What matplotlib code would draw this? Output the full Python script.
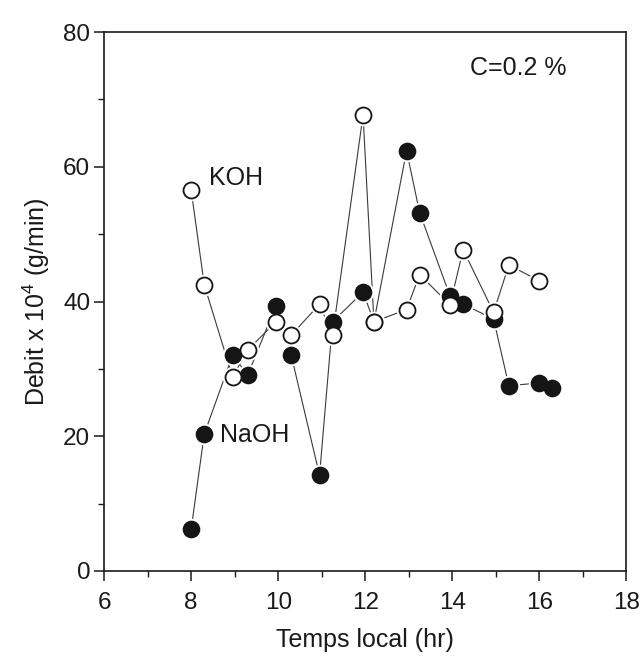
import matplotlib
matplotlib.use("Agg")
import matplotlib.pyplot as plt
from matplotlib.ticker import MultipleLocator

plt.rcParams['font.family'] = ['Liberation Sans', 'DejaVu Sans']
plt.rcParams['mathtext.fontset'] = 'custom'
plt.rcParams['mathtext.rm'] = 'Liberation Sans'

# Data
naoh_t = [8.0, 8.3, 8.95, 9.3, 9.95, 10.3, 10.95, 11.25, 11.95, 12.2, 12.95, 13.25, 13.95, 14.25, 14.95, 15.3, 16.0, 16.3]
naoh_v = [6.2, 20.3, 32.0, 29.1, 39.4, 32.0, 14.2, 37.0, 41.4, 37.0, 62.4, 53.2, 40.8, 39.6, 37.4, 27.5, 27.9, 27.2]

koh_t = [8.0, 8.3, 8.95, 9.3, 9.95, 10.3, 10.95, 11.25, 11.95, 12.2, 12.95, 13.25, 13.95, 14.25, 14.95, 15.3, 16.0]
koh_v = [56.5, 42.5, 28.8, 32.8, 37.0, 35.0, 39.6, 35.0, 67.7, 37.0, 38.8, 44.0, 39.5, 47.7, 38.4, 45.4, 43.1]

fig = plt.figure(figsize=(6.43, 6.70), dpi=100)
ax = fig.add_axes([0.162, 0.148, 0.812, 0.804])

ms = 11.5
lc = '#3a3a3a'
ax.plot(naoh_t, naoh_v, '-', color=lc, lw=0.8, zorder=2)
ax.plot(koh_t, koh_v, '-', color=lc, lw=0.8, zorder=2)
# white halos to create the gaps between lines and markers
ax.plot(naoh_t, naoh_v, 'o', ms=ms + 4, mfc='white', mec='none', zorder=3)
ax.plot(koh_t, koh_v, 'o', ms=ms + 4, mfc='white', mec='none', zorder=3)
ax.plot(naoh_t, naoh_v, 'o', ms=ms, mfc='#151515', mec='#151515', mew=1.2, zorder=4)
ax.plot(koh_t, koh_v, 'o', ms=ms, mfc='white', mec='#151515', mew=1.3, zorder=5)

ax.set_xlim(6, 18)
ax.set_ylim(0, 80)
ax.xaxis.set_major_locator(MultipleLocator(2))
ax.xaxis.set_minor_locator(MultipleLocator(1))
ax.yaxis.set_major_locator(MultipleLocator(20))
ax.yaxis.set_minor_locator(MultipleLocator(10))
ax.tick_params(axis='both', which='major', direction='out', length=7, width=1.1,
               labelsize=17.5, colors='#1a1a1a')
ax.tick_params(axis='both', which='minor', direction='out', length=4, width=1.0, colors='#1a1a1a')
ax.tick_params(axis='x', which='major', pad=8)
ax.tick_params(axis='y', which='major', pad=3)
ax.tick_params(top=False, right=False, which='both')
for s in ax.spines.values():
    s.set_linewidth(1.2)
    s.set_color('#1a1a1a')

ax.set_xlabel('Temps local (hr)', fontsize=18, color='#1a1a1a', labelpad=10)
ax.set_ylabel(r'Debit x 10$^4$ (g/min)', fontsize=18, color='#1a1a1a', labelpad=8)

ax.text(8.42, 58.3, 'KOH', fontsize=18, ha='left', va='center', color='#1a1a1a')
ax.text(8.66, 20.1, 'NaOH', fontsize=18, ha='left', va='center', color='#1a1a1a')
ax.text(14.4, 74.7, 'C=0.2 %', fontsize=18, ha='left', va='center', color='#1a1a1a')

fig.savefig('out.png', dpi=100)
